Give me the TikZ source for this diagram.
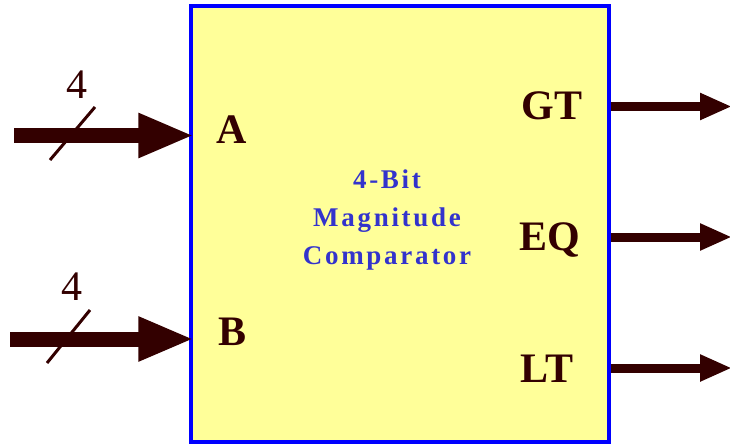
\documentclass[tikz,border=0pt]{standalone}
\usepackage{fontspec}
\setmainfont{Liberation Serif}
\newfontfamily\titlefont[LetterSpace=10]{Liberation Serif}
\usetikzlibrary{arrows.meta}
\definecolor{boxfill}{HTML}{FFFF99}
\definecolor{wire}{HTML}{330000}
\definecolor{titleblue}{HTML}{3333CC}

\begin{document}
\begin{tikzpicture}[x=1pt,y=-1pt,
  bus/.style={wire,line width=15pt,-{Triangle[length=56pt,width=41pt]}},
  sig/.style={wire,line width=9pt,-{Triangle[length=32pt,width=25pt]}},
  pin/.style={anchor=base,text=wire,inner sep=0pt,font=\fontsize{42}{42}\selectfont\bfseries},
  width/.style={anchor=base,text=wire,inner sep=0pt,font=\fontsize{42}{42}\selectfont}]
\useasboundingbox (0,0) rectangle (730,444);
% comparator block
\node[draw=blue,fill=boxfill,line width=3.5pt,inner sep=0pt,
  minimum width=418pt,minimum height=436pt] (cmp) at (400,224) {};
\node[text=titleblue,align=center,font=\titlefont\bfseries\fontsize{27}{38}\selectfont]
  (title) at (387,220) {4-Bit\\Magnitude\\Comparator};
% port labels
\node[pin] (a) at (232,143) {A};
\node[pin] (b) at (233,345) {B};
\node[pin] (gt) at (552,119) {GT};
\node[pin] (eq) at (550,250) {EQ};
\node[pin] (lt) at (547,382) {LT};
% inputs
\coordinate (inA) at (14,135.5);
\coordinate (inB) at (10,339);
\draw[bus] (inA) -- ([xshift=5pt]cmp.west |- inA);
\draw[bus] (inB) -- ([xshift=5pt]cmp.west |- inB);
\draw[wire,line width=3pt] (50,160) -- (95,107);
\draw[wire,line width=3pt] (47,363) -- (90,310);
\node[width] (wa) at (77,98) {4};
\node[width] (wb) at (72,300) {4};
% outputs
\coordinate (outGT) at (732,106.5);
\coordinate (outEQ) at (732,237);
\coordinate (outLT) at (732,368);
\draw[sig] (cmp.east |- outGT) -- (outGT);
\draw[sig] (cmp.east |- outEQ) -- (outEQ);
\draw[sig] (cmp.east |- outLT) -- (outLT);
\end{tikzpicture}
\end{document}
